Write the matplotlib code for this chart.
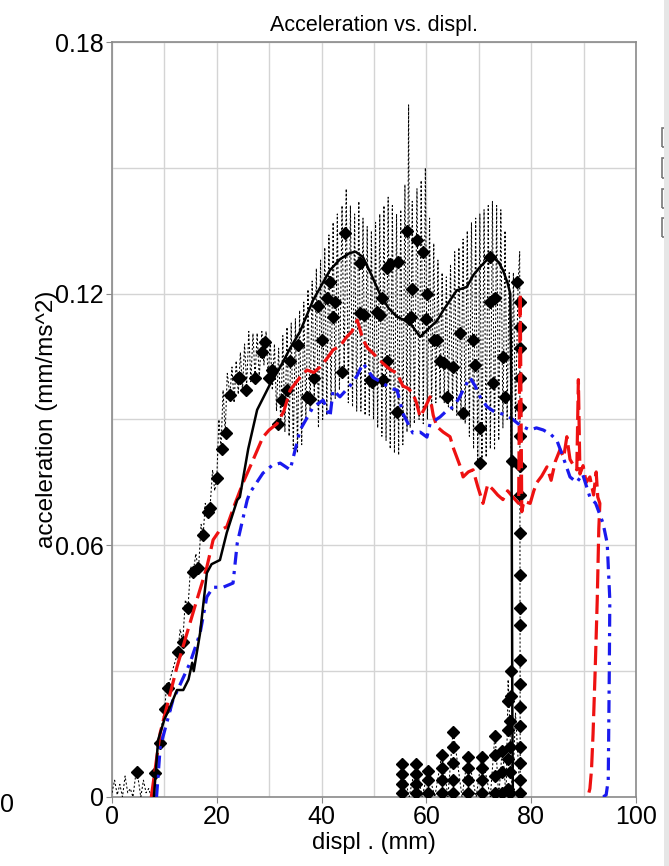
import numpy as np
import matplotlib
matplotlib.use('Agg')
import matplotlib.pyplot as plt
from matplotlib.ticker import MultipleLocator
from matplotlib.patches import Rectangle

plt.rcParams['font.family'] = ['Liberation Sans', 'DejaVu Sans']

# solid black curve (displ, accel)
solid_pts = [(8.0, 0.0), (8.8, 0.0136), (10.0, 0.0185), (11.1, 0.0215), (12.4, 0.0255),
             (13.6, 0.0255), (14.6, 0.028), (15.3, 0.032), (15.6, 0.030), (16.8, 0.039),
             (18.1, 0.0534), (19.0, 0.0555), (20.6, 0.0565), (21.9, 0.063), (23.9, 0.0708),
             (24.4, 0.0715), (26.0, 0.083), (27.7, 0.0923), (30.0, 0.098), (32.1, 0.1025),
             (34.0, 0.107), (35.9, 0.111), (38.4, 0.1185), (41.6, 0.1256), (43.5, 0.1282),
             (45.4, 0.1297), (46.5, 0.1300), (47.9, 0.1287), (49.5, 0.1245), (51.1, 0.120),
             (52.8, 0.1165), (54.4, 0.1145), (56.9, 0.113), (58.8, 0.1097), (60.7, 0.112),
             (62.0, 0.1135), (63.2, 0.116), (65.8, 0.1208), (67.7, 0.1216), (69.0, 0.1245),
             (70.2, 0.1263), (71.5, 0.128), (72.7, 0.1287), (73.8, 0.1275), (74.6, 0.1256),
             (75.5, 0.1225), (76.0, 0.120), (76.2, 0.100), (76.3, 0.0596), (76.4, 0.020),
             (76.5, 0.0)]

# red dashed curve
red_pts = [(7.5, 0.0), (9.2, 0.0153), (12.4, 0.031), (16.2, 0.047), (18.1, 0.0548),
           (19.3, 0.0613), (20.5, 0.0635), (21.9, 0.0644), (23.5, 0.070), (25.0, 0.0749),
           (26.8, 0.080), (28.8, 0.0858), (30.0, 0.0875), (31.5, 0.089), (32.8, 0.092),
           (34.0, 0.097), (35.9, 0.1001), (37.2, 0.1018), (38.5, 0.1012), (39.7, 0.1025),
           (41.0, 0.1045), (42.2, 0.1066), (43.5, 0.1075), (44.8, 0.1097), (45.8, 0.111),
           (46.8, 0.1137), (47.9, 0.109), (48.8, 0.107), (49.8, 0.1058), (50.8, 0.1045),
           (51.7, 0.1034), (53.0, 0.102), (54.4, 0.101), (55.5, 0.098), (56.4, 0.0975),
           (57.4, 0.0963), (58.1, 0.094), (58.8, 0.0906), (59.8, 0.093), (60.7, 0.0954),
           (61.3, 0.091), (62.0, 0.0883), (63.2, 0.087), (64.5, 0.0859), (65.2, 0.083),
           (65.8, 0.081), (66.4, 0.079), (67.0, 0.0763), (68.0, 0.0775), (68.9, 0.078),
           (69.8, 0.074), (70.8, 0.070), (71.7, 0.0745), (72.7, 0.0733), (73.6, 0.072),
           (74.6, 0.0709), (75.5, 0.073), (76.5, 0.0715), (77.6, 0.070), (77.9, 0.120),
           (78.2, 0.068), (78.6, 0.0705), (79.8, 0.070), (80.5, 0.073), (81.1, 0.075),
           (82.0, 0.0765), (83.0, 0.0787), (83.8, 0.0755), (84.6, 0.080), (85.5, 0.0828),
           (86.2, 0.081), (86.8, 0.0859), (87.4, 0.0805), (88.1, 0.079), (88.7, 0.078),
           (89.0, 0.0995), (89.3, 0.077), (89.9, 0.079), (90.5, 0.075), (91.2, 0.0763),
           (91.9, 0.072), (92.4, 0.0775), (92.7, 0.0715), (93.1, 0.070), (92.9, 0.064),
           (92.6, 0.047), (92.2, 0.030), (91.8, 0.015), (91.5, 0.0064), (91.2, 0.002),
           (90.8, 0.0)]

# blue dash-dot curve
blue_pts = [(8.5, 0.0), (9.2, 0.0119), (11.6, 0.023), (14.9, 0.032), (16.8, 0.039),
            (18.1, 0.0477), (19.3, 0.050), (21.2, 0.050), (23.1, 0.051), (23.9, 0.0605),
            (25.8, 0.0708), (26.3, 0.0725), (28.8, 0.0772), (30.5, 0.079), (32.1, 0.0796),
            (34.0, 0.078), (35.9, 0.0875), (38.4, 0.093), (40.3, 0.0946), (41.6, 0.0906),
            (42.2, 0.097), (43.5, 0.0954), (45.4, 0.098), (46.8, 0.1005), (47.9, 0.1034),
            (49.8, 0.100), (51.7, 0.0987), (53.0, 0.0975), (54.4, 0.097), (55.5, 0.0915),
            (57.4, 0.0868), (58.8, 0.087), (60.1, 0.0858), (60.7, 0.089), (62.6, 0.0906),
            (63.8, 0.092), (65.1, 0.093), (66.2, 0.095), (67.0, 0.097), (68.3, 0.100),
            (69.3, 0.098), (70.4, 0.095), (71.6, 0.093), (72.8, 0.092), (74.0, 0.0915),
            (75.3, 0.091), (76.5, 0.090), (78.0, 0.0885), (79.8, 0.0875), (81.0, 0.088),
            (82.3, 0.0875), (83.7, 0.0865), (84.9, 0.085), (86.1, 0.081), (87.4, 0.0763),
            (88.7, 0.075), (89.8, 0.077), (91.2, 0.0715), (92.3, 0.070), (93.7, 0.0653),
            (94.5, 0.0605), (95.0, 0.047), (94.9, 0.030), (94.7, 0.004), (94.3, 0.0005),
            (93.7, 0.0), (92.6, 0.0)]

# raw (dotted) signal
raw_x = [0.0, 0.5, 1.0, 1.5, 2.0, 2.5, 3.0, 3.5, 4.0, 4.5, 4.8, 5.5, 6.0, 6.5, 7.0, 7.5,
         8.2, 8.6, 9.2, 9.6, 10.1, 10.4, 10.7, 11.5, 12.6, 13.0, 13.5, 14.0, 14.5, 15.0,
         15.5, 16.0, 16.5, 17.0, 17.4, 17.8, 18.3, 18.7, 19.2, 19.6, 20.0, 20.4, 20.8, 21.2,
         21.6, 22.0, 22.5, 22.9, 23.3, 23.7, 24.1, 24.5, 24.9, 25.3, 25.7, 26.1, 26.5, 26.9,
         27.3, 27.7, 28.1, 28.6, 29.0, 29.4, 29.8, 30.2, 30.6, 31.0, 31.4, 31.8, 32.2, 32.6,
         33.0, 33.4, 33.8, 34.2, 34.6, 35.0, 35.4, 35.8, 36.2, 36.6, 37.0, 37.4, 37.8, 38.2,
         38.6, 39.0, 39.4, 39.8, 40.2, 40.6, 41.0, 41.4, 41.8, 42.2, 42.6, 43.0, 43.4, 43.9,
         44.3, 44.7, 45.1, 45.5, 45.9, 46.3, 46.7, 47.1, 47.5, 47.9, 48.3, 48.7, 49.1, 49.5,
         49.9, 50.3, 50.7, 51.1, 51.5, 51.9, 52.3, 52.7, 53.1, 53.5, 53.9, 54.3, 54.7, 55.1,
         55.5, 55.9, 56.3, 56.6, 56.9, 57.3, 57.7, 58.2, 58.6, 59.0, 59.4, 59.8, 60.2, 60.6,
         61.0, 61.4, 61.8, 62.2, 62.6, 63.0, 63.4, 63.8, 64.2, 64.6, 65.0, 65.4, 65.8, 66.2,
         66.6, 67.0, 67.4, 67.8, 68.2, 68.6, 69.0, 69.4, 69.8, 70.2, 70.6, 71.0, 71.4, 71.8,
         72.2, 72.6, 73.0, 73.4, 73.8, 74.2, 74.6, 75.0, 75.4, 75.8, 76.2, 76.6, 77.0, 77.5,
         77.8, 77.9]
raw_y = [0.001, 0.004, 0.0005, 0.003, 0.0, 0.005, 0.001, 0.002, 0.0, 0.005, 0.006, 0.0, 0.004,
         0.001, 0.002, 0.0, 0.0057, 0.011, 0.0128, 0.018, 0.021, 0.027, 0.026, 0.030, 0.0346,
         0.040, 0.037, 0.047, 0.045, 0.055, 0.0536, 0.058, 0.054, 0.065, 0.0625, 0.070, 0.068,
         0.0689, 0.078, 0.073, 0.076, 0.090, 0.083, 0.097, 0.087, 0.101, 0.0958, 0.1025, 0.094,
         0.104, 0.096, 0.106, 0.097, 0.108, 0.098, 0.111, 0.099, 0.1105, 0.0998, 0.1106, 0.100,
         0.111, 0.103, 0.111, 0.100, 0.109, 0.097, 0.108, 0.092, 0.107, 0.089, 0.110, 0.087,
         0.112, 0.086, 0.113, 0.083, 0.114, 0.082, 0.116, 0.084, 0.118, 0.090, 0.121, 0.092,
         0.123, 0.095, 0.126, 0.088, 0.128, 0.090, 0.131, 0.091, 0.134, 0.093, 0.137, 0.095,
         0.139, 0.097, 0.141, 0.1013, 0.145, 0.094, 0.141, 0.093, 0.139, 0.092, 0.142, 0.092,
         0.138, 0.091, 0.136, 0.091, 0.135, 0.090, 0.137, 0.088, 0.139, 0.086, 0.141, 0.085,
         0.143, 0.083, 0.141, 0.082, 0.139, 0.0815, 0.140, 0.084, 0.146, 0.087, 0.165, 0.088,
         0.142, 0.089, 0.145, 0.090, 0.147, 0.089, 0.150, 0.090, 0.138, 0.092, 0.132, 0.094,
         0.128, 0.095, 0.125, 0.094, 0.124, 0.093, 0.127, 0.092, 0.130, 0.091, 0.131, 0.090,
         0.133, 0.089, 0.135, 0.086, 0.137, 0.083, 0.138, 0.080, 0.139, 0.0787, 0.140, 0.081,
         0.141, 0.083, 0.142, 0.0827, 0.141, 0.085, 0.140, 0.088, 0.135, 0.090, 0.125, 0.080,
         0.125, 0.090, 0.1225, 0.130, 0.0]

# rebound part of the raw signal (displacement going back)
rebound_x = [77.9, 77.0, 76.4, 75.6, 75.2, 74.5, 73.8, 73.1, 72.2, 70.6, 69.5, 67.9, 66.8,
             65.1, 64.1, 63.0, 61.6, 60.3, 59.2, 58.0, 56.7, 55.3, 55.0]
rebound_y = [0.0, 0.020, 0.0, 0.028, 0.0, 0.012, 0.0, 0.0153, 0.0, 0.010, 0.0, 0.010, 0.0,
             0.016, 0.0, 0.0105, 0.0, 0.0064, 0.0, 0.008, 0.0, 0.008, 0.0]

# diamond markers on the raw signal
dia_x = [4.8, 8.2, 9.2, 10.1, 10.7, 12.6, 13.5, 14.5, 15.5, 16.4, 17.4, 18.3, 18.7, 20.0,
         21.0, 21.8, 22.5, 24.0, 24.4, 25.5, 27.3, 28.6, 29.2, 30.0, 30.5, 31.7, 32.4, 33.4,
         34.0, 35.5, 37.2, 37.8, 38.6, 39.3, 40.0, 41.0, 41.6, 42.2, 42.5, 43.9, 44.5, 47.3,
         47.3, 48.0, 49.2, 49.6, 50.6, 51.1, 51.5, 51.7, 52.5, 52.5, 53.0, 54.4, 54.6, 56.3,
         57.3, 58.2, 59.4, 57.0, 56.6, 60.0, 60.1, 61.5, 62.0, 62.6, 63.4, 63.9, 65.1, 66.4,
         67.0, 68.9, 69.3, 70.2, 70.2, 72.1, 72.1, 72.7, 73.1, 74.6, 75.0, 76.3, 77.3,
         77.9, 77.9, 77.9, 77.9, 77.9, 77.9, 77.9, 77.9, 77.9, 77.9, 77.9, 77.9, 77.9, 77.9,
         77.9, 77.9, 77.9, 77.9, 77.9, 77.9,
         76.0, 76.0, 76.0, 76.0, 76.2, 76.2, 75.6, 75.6, 75.6, 75.6, 74.5, 74.5, 74.5,
         73.1, 73.1, 73.1, 73.1, 70.6, 70.6, 70.6, 70.6, 67.9, 67.9, 67.9, 67.9,
         65.1, 65.1, 65.1, 65.1, 65.1, 63.0, 63.0, 63.0, 63.0, 60.3, 60.3, 60.3,
         58.0, 58.0, 58.0, 58.0, 55.3, 55.3, 55.3, 55.3]
dia_y = [0.006, 0.0057, 0.0128, 0.021, 0.026, 0.0346, 0.037, 0.045, 0.0536, 0.0545, 0.0625,
         0.068, 0.0689, 0.076, 0.083, 0.0868, 0.0958, 0.100, 0.100, 0.097, 0.0998, 0.106,
         0.1085, 0.100, 0.1018, 0.089, 0.0946, 0.097, 0.104, 0.1077, 0.0954, 0.095, 0.100,
         0.117, 0.109, 0.119, 0.1227, 0.1145, 0.118, 0.1013, 0.1345, 0.1274, 0.1154, 0.115,
         0.0994, 0.099, 0.1157, 0.115, 0.119, 0.0994, 0.104, 0.126, 0.127, 0.0918, 0.1275,
         0.135, 0.121, 0.1328, 0.130, 0.1145, 0.114, 0.114, 0.120, 0.109, 0.109, 0.104, 0.1035,
         0.0954, 0.1025, 0.1106, 0.0915, 0.109, 0.103, 0.0796, 0.088, 0.118, 0.1287, 0.0987,
         0.119, 0.105, 0.0954, 0.080, 0.1228,
         0.118, 0.112, 0.107, 0.100, 0.093, 0.086, 0.079, 0.072, 0.063, 0.053, 0.045, 0.041,
         0.0327, 0.027, 0.0215, 0.017, 0.012, 0.008, 0.004, 0.001,
         0.001, 0.006, 0.012, 0.018, 0.024, 0.030, 0.002, 0.009, 0.016, 0.023, 0.001, 0.006,
         0.011, 0.001, 0.005, 0.010, 0.0145, 0.001, 0.004, 0.007, 0.0095, 0.001, 0.004,
         0.007, 0.0095, 0.001, 0.004, 0.008, 0.012, 0.0155, 0.001, 0.004, 0.007, 0.0100,
         0.001, 0.004, 0.0062, 0.001, 0.003, 0.0055, 0.0078, 0.001, 0.003, 0.0055, 0.0078]

fig = plt.figure(figsize=(6.69, 8.66), dpi=100)
ax = fig.add_axes([0.1674, 0.0797, 0.7833, 0.8718])

# raw signal: thin dotted line with diamonds
ax.plot(raw_x + rebound_x, raw_y + rebound_y, color='black', lw=0.75, ls=(0, (2, 2)), zorder=3)
ax.plot(dia_x, dia_y, ls='none', marker='D', ms=6.5, color='black', zorder=4)

# the three smoothed curves
rx, ry = zip(*red_pts)
bx, by = zip(*blue_pts)
sx, sy = zip(*solid_pts)
ax.plot(rx, ry, color='#ee1111', lw=2.3, ls=(0, (6, 2)), zorder=5)
ax.plot(bx, by, color='#1a1aee', lw=2.3, ls=(0, (4, 2, 1, 2)), zorder=5)
ax.plot(sx, sy, color='black', lw=1.8, zorder=6)

ax.set_xlim(0, 100)
ax.set_ylim(0, 0.18)
ax.set_xticks(np.arange(0, 101, 20))
ax.set_xticklabels(['0', '20', '40', '60', '80', '100'])
ax.set_yticks([0, 0.06, 0.12, 0.18])
ax.set_yticklabels(['0', '0.06', '0.12', '0.18'])
ax.xaxis.set_minor_locator(MultipleLocator(10))
ax.yaxis.set_minor_locator(MultipleLocator(0.03))

ax.grid(True, which='both', color='#d4d4d4', lw=1)
ax.set_axisbelow(True)
for s in ax.spines.values():
    s.set_color('#8a8a8a')
    s.set_linewidth(1.2)
ax.tick_params(which='major', length=4, color='#8a8a8a', labelsize=18, pad=2)
ax.tick_params(which='minor', length=0)

ax.set_title('Acceleration vs. displ.', fontsize=15.5, pad=8)
ax.set_xlabel('displ . (mm)', fontsize=17, labelpad=2)
ax.set_ylabel('acceleration (mm/ms^2)', fontsize=17.5, labelpad=-2)

# leftover pieces of the screenshot
fig.text(0.0, 0.062, '0', fontsize=18)
for yy in [0.830, 0.795, 0.760, 0.726]:
    fig.add_artist(Rectangle((0.99, yy), 0.02, 0.022, transform=fig.transFigure,
                             fill=False, ec='#777777', lw=1.2))
fig.add_artist(Rectangle((0.993, 0.0), 0.007, 1.0, transform=fig.transFigure,
                         color='#e6e6e6', lw=0))

plt.savefig('out.png', dpi=100)
